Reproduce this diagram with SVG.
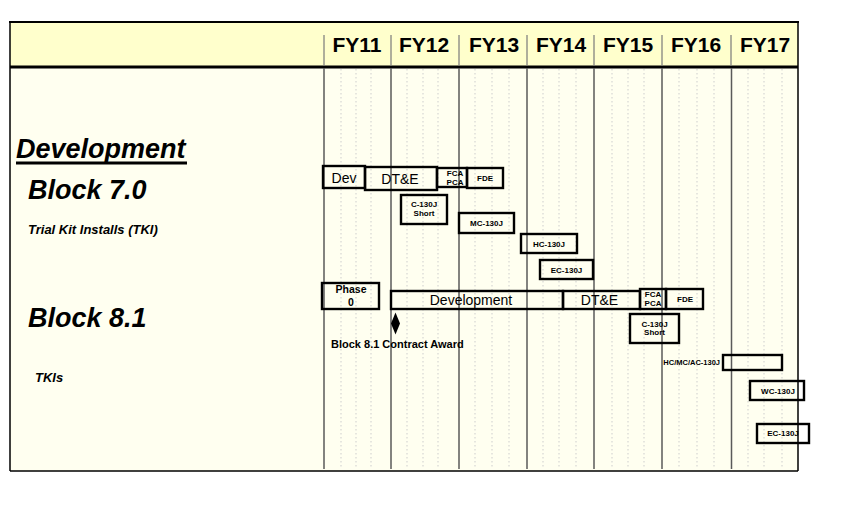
<svg xmlns="http://www.w3.org/2000/svg" width="846" height="509" viewBox="0 0 846 509">
<style>
text{font-family:"Liberation Sans",Arial,sans-serif;fill:#000}
.yr{font-size:21px;font-weight:bold;text-anchor:middle}
.bi{font-weight:bold;font-style:italic}
.box{fill:none;stroke:#000;stroke-width:2.4}
.lbl{text-anchor:middle}
.b13{font-size:14px}
.s8{font-size:8px;font-weight:bold;text-anchor:middle}
.yline{stroke:#5a5a5a;stroke-width:1.5}
.hsep{stroke:#7a7a7a;stroke-width:1.2}
.dot{stroke:#cdcdcd;stroke-width:1;stroke-dasharray:1.5 2.5}
</style>
<rect x="0" y="0" width="846" height="509" fill="#ffffff"/>
<g id="frame">
<rect x="10" y="22" width="788" height="45" fill="#ffffcc"/>
<rect x="10" y="67" width="788" height="404" fill="#fffff0"/>
<line x1="9" y1="22" x2="799" y2="22" stroke="#000" stroke-width="2"/>
<line x1="10" y1="22" x2="10" y2="471" stroke="#000" stroke-width="1.5"/>
<line x1="798" y1="22" x2="798" y2="471" stroke="#000" stroke-width="1.5"/>
<line x1="10" y1="471" x2="798" y2="471" stroke="#000" stroke-width="1.5"/>
<line x1="10" y1="67" x2="798" y2="67" stroke="#000" stroke-width="3"/>
</g>
<g id="header">
<g class="hsep">
<line x1="324" y1="35" x2="324" y2="66"/>
<line x1="391" y1="35" x2="391" y2="66"/>
<line x1="459" y1="35" x2="459" y2="66"/>
<line x1="527" y1="35" x2="527" y2="66"/>
<line x1="594" y1="35" x2="594" y2="66"/>
<line x1="662" y1="35" x2="662" y2="66"/>
<line x1="731" y1="35" x2="731" y2="66"/>
</g>
<text class="yr" x="357" y="52">FY11</text>
<text class="yr" x="424" y="52">FY12</text>
<text class="yr" x="494" y="52">FY13</text>
<text class="yr" x="561" y="52">FY14</text>
<text class="yr" x="628" y="52">FY15</text>
<text class="yr" x="696" y="52">FY16</text>
<text class="yr" x="765" y="52">FY17</text>
</g>
<g id="connectors">
<g class="dot">
<line x1="341" y1="69" x2="341" y2="468"/>
<line x1="356" y1="69" x2="356" y2="468"/>
<line x1="371" y1="69" x2="371" y2="468"/>
<line x1="407" y1="69" x2="407" y2="468"/>
<line x1="423" y1="69" x2="423" y2="468"/>
<line x1="438" y1="69" x2="438" y2="468"/>
<line x1="475" y1="69" x2="475" y2="468"/>
<line x1="492" y1="69" x2="492" y2="468"/>
<line x1="509" y1="69" x2="509" y2="468"/>
<line x1="543" y1="69" x2="543" y2="468"/>
<line x1="559" y1="69" x2="559" y2="468"/>
<line x1="576" y1="69" x2="576" y2="468"/>
<line x1="612" y1="69" x2="612" y2="468"/>
<line x1="628" y1="69" x2="628" y2="468"/>
<line x1="644" y1="69" x2="644" y2="468"/>
<line x1="679" y1="69" x2="679" y2="468"/>
<line x1="697" y1="69" x2="697" y2="468"/>
<line x1="714" y1="69" x2="714" y2="468"/>
<line x1="748" y1="69" x2="748" y2="468"/>
<line x1="764" y1="69" x2="764" y2="468"/>
<line x1="782" y1="69" x2="782" y2="468"/>
</g>
<g class="yline">
<line x1="324" y1="68" x2="324" y2="469"/>
<line x1="391" y1="68" x2="391" y2="469"/>
<line x1="459" y1="68" x2="459" y2="469"/>
<line x1="527" y1="68" x2="527" y2="469"/>
<line x1="594" y1="68" x2="594" y2="469"/>
<line x1="662" y1="68" x2="662" y2="469"/>
<line x1="731.5" y1="68" x2="731.5" y2="469"/>
</g>
</g>
<g id="labels">
<text class="bi" x="16" y="158" font-size="27">Development</text>
<line x1="16" y1="163" x2="187" y2="163" stroke="#000" stroke-width="3"/>
<text class="bi" x="28" y="199" font-size="27">Block 7.0</text>
<text class="bi" x="28" y="234" font-size="13">Trial Kit Installs (TKI)</text>
<text class="bi" x="28" y="327" font-size="27">Block 8.1</text>
<text class="bi" x="35" y="382" font-size="13">TKIs</text>
</g>
<g id="b7-dev"><rect class="box" x="323" y="166" width="42" height="22"/><text class="lbl b13" x="344" y="183">Dev</text></g>
<g id="b7-dte"><rect class="box" x="365" y="167" width="72" height="23"/><text class="lbl b13" x="400" y="183.5">DT&amp;E</text></g>
<g id="b7-fca"><rect class="box" x="437" y="168" width="30" height="19"/><text class="s8" x="455" y="176">FCA</text><text class="s8" x="455" y="185">PCA</text></g>
<g id="b7-fde"><rect class="box" x="467" y="168" width="36" height="20"/><text class="s8" x="485" y="181">FDE</text></g>
<g id="b7-c130j"><rect class="box" x="401" y="195" width="46" height="29"/><text class="s8" x="424" y="206.5">C-130J</text><text class="s8" x="424" y="215.5">Short</text></g>
<g id="b7-mc130j"><rect class="box" x="459" y="213" width="55" height="20"/><text class="s8" x="486.5" y="226">MC-130J</text></g>
<g id="b7-hc130j"><rect class="box" x="521" y="234" width="56" height="19"/><text class="s8" x="549" y="247">HC-130J</text></g>
<g id="b7-ec130j"><rect class="box" x="540" y="260" width="53" height="19"/><text class="s8" x="566.5" y="272.5">EC-130J</text></g>
<g id="b8-phase0"><rect class="box" x="322" y="283" width="57" height="26"/><text class="lbl" x="351" y="293" font-size="10.5" font-weight="bold">Phase</text><text class="lbl" x="351" y="305.5" font-size="10.5" font-weight="bold">0</text></g>
<g id="b8-dev"><rect class="box" x="391" y="291" width="172" height="18"/><text class="lbl" x="471" y="305" font-size="14">Development</text></g>
<g id="b8-dte"><rect class="box" x="563" y="291" width="77" height="18"/><text class="lbl" x="599.5" y="305" font-size="14">DT&amp;E</text></g>
<g id="b8-fca"><rect class="box" x="640" y="289" width="26" height="20"/><text class="s8" x="653" y="297" font-size="7.5">FCA</text><text class="s8" x="653" y="305.5" font-size="7.5">PCA</text></g>
<g id="b8-fde"><rect class="box" x="666" y="289" width="37" height="20"/><text class="s8" x="685" y="301.5">FDE</text></g>
<g id="b8-c130j"><rect class="box" x="630" y="314" width="49" height="29"/><text class="s8" x="654.5" y="326.5">C-130J</text><text class="s8" x="654.5" y="335">Short</text></g>
<g id="b8-award"><polygon points="395.5,312.5 400,323.5 395.5,334.5 391,323.5" fill="#000"/><text x="331" y="348" font-size="11" font-weight="bold">Block 8.1 Contract Award</text></g>
<g id="b8-hcmcac"><rect class="box" x="723" y="355" width="59" height="15"/><text x="720" y="365" font-size="7.5" font-weight="bold" text-anchor="end">HC/MC/AC-130J</text></g>
<g id="b8-wc130j"><rect class="box" x="750" y="381" width="54" height="19"/><text class="s8" x="778" y="393.5" font-size="7.7">WC-130J</text></g>
<g id="b8-ec130j"><rect class="box" x="757" y="424" width="52" height="19"/><text class="s8" x="783" y="436" font-size="7.7">EC-130J</text></g>
</svg>
